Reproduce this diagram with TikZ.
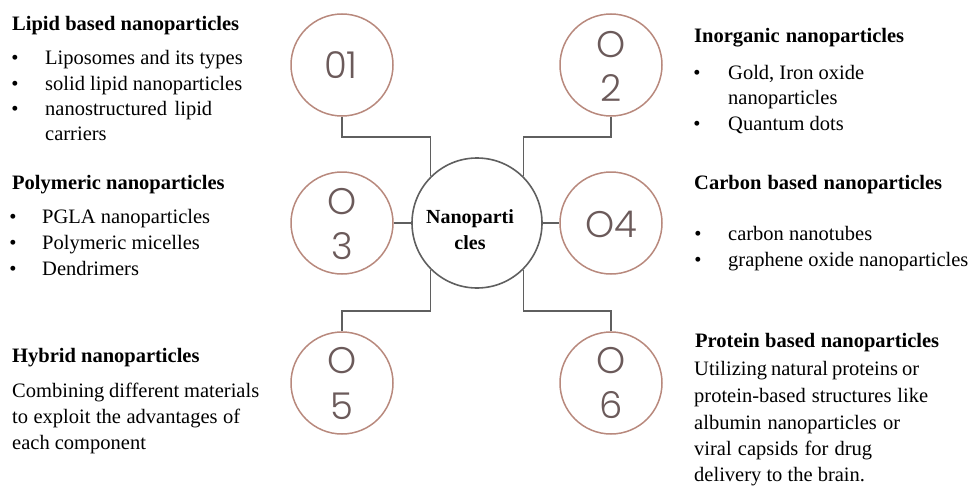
\documentclass[tikz,border=0pt]{standalone}
\usepackage{fontspec}
\setmainfont{Liberation Serif}
\newfontfamily\numfont{Poppins}[UprightFont={* Light}]
\definecolor{rose}{HTML}{B8897D}
\definecolor{digit}{HTML}{6B5A5A}
\definecolor{link}{HTML}{5F5F5F}
\begin{document}
\begin{tikzpicture}[x=1pt,y=-1pt,
  numcirc/.style={circle, draw=rose, line width=1.5pt, minimum size=102pt, inner sep=0pt},
  hub/.style={circle, draw=link, line width=1.6pt, minimum size=130pt, inner sep=0pt},
  wire/.style={draw=link, line width=1.8pt},
  digits/.style={font=\numfont\fontsize{37}{37}\selectfont, text=digit, inner sep=0pt, anchor=center},
  head/.style={font=\fontsize{20.5}{24}\selectfont\bfseries, anchor=base west, inner sep=0pt},
  hubtext/.style={font=\fontsize{20}{24}\selectfont\bfseries, anchor=base, inner sep=0pt},
  body/.style={font=\fontsize{20.5}{24}\selectfont, anchor=base west, inner sep=0pt},
  bul/.style={font=\fontsize{20.5}{24}\selectfont, anchor=base, inner sep=0pt},
]
\useasboundingbox (0,0) rectangle (969,487);

% circles
\node[hub] (n) at (477,223) {};
\node[numcirc] (c1) at (342,65) {};
\node[numcirc] (c2) at (611,65) {};
\node[numcirc] (c3) at (342,223) {};
\node[numcirc] (c4) at (611,223) {};
\node[numcirc] (c5) at (342,383) {};
\node[numcirc] (c6) at (611,383) {};

% hub text
\node[hubtext] (nt1) at (470,223) {Nanoparti};
\node[hubtext] (nt2) at (470,249) {cles};

% digits
\node[digits] (d1) at (341,65) {01};
\node[digits] (d2a) at (611,45) {O};
\node[digits] (d2b) at (611,88) {2};
\node[digits] (d3a) at (342,202) {O};
\node[digits] (d3b) at (342,246) {3};
\node[digits] (d4) at (611,224) {O4};
\node[digits] (d5a) at (342,361) {O};
\node[digits] (d5b) at (342,406) {5};
\node[digits] (d6a) at (611,361) {O};
\node[digits] (d6b) at (611,405) {6};

% connectors
\coordinate (k1) at (n.135 |- 0,137);
\coordinate (k2) at (n.45 |- 0,137);
\coordinate (k5) at (n.225 |- 0,311);
\coordinate (k6) at (n.315 |- 0,311);
\draw[wire] (c1.south) |- (k1) -- (n.135);
\draw[wire] (c2.south) |- (k2) -- (n.45);
\draw[wire] (c5.north) |- (k5) -- (n.225);
\draw[wire] (c6.north) |- (k6) -- (n.315);
\draw[wire] (c3.east) -- (n.west);
\draw[wire] (n.east) -- (c4.west);

% left top
\node[head] (h1) at (12,31) {\makebox[227pt][s]{Lipid based nanoparticles}};
\node[bul] (b11) at (15,64) {•};
\node[bul] (b12) at (15,90) {•};
\node[bul] (b13) at (15,115) {•};
\node[body] (t11) at (45,64) {Liposomes and its types};
\node[body] (t12) at (45,90) {solid lipid nanoparticles};
\node[body] (t13) at (45,115) {\makebox[167pt][s]{nanostructured lipid}};
\node[body] (t14) at (45,140) {carriers};

% left middle
\node[head] (h3) at (12,189) {Polymeric nanoparticles};
\node[bul] (b31) at (13,223) {•};
\node[bul] (b32) at (13,249) {•};
\node[bul] (b33) at (13,275) {•};
\node[body] (t31) at (42,223) {PGLA nanoparticles};
\node[body] (t32) at (42,249) {Polymeric micelles};
\node[body] (t33) at (42,275) {Dendrimers};

% left bottom
\node[head] (h5) at (12,362) {Hybrid nanoparticles};
\node[body] (t51) at (12,397) {\makebox[247pt][s]{Combining different materials}};
\node[body] (t52) at (12,423) {\makebox[228pt][s]{to exploit the advantages of}};
\node[body] (t53) at (12,449) {each component};

% right top
\node[head] (h2) at (694,43) {\makebox[210pt][s]{Inorganic nanoparticles}};
\node[bul] (b21) at (697,80) {•};
\node[bul] (b22) at (697,130) {•};
\node[body] (t21) at (728,80) {Gold, Iron oxide};
\node[body] (t22) at (728,104) {nanoparticles};
\node[body] (t23) at (728,130) {Quantum dots};

% right middle
\node[head] (h4) at (694,189) {\makebox[248pt][s]{Carbon based nanoparticles}};
\node[bul] (b41) at (698,240) {•};
\node[bul] (b42) at (698,266) {•};
\node[body] (t41) at (728,240) {carbon nanotubes};
\node[body] (t42) at (728,266) {graphene oxide nanoparticles};

% right bottom
\node[head] (h6) at (695,347) {\makebox[244pt][s]{Protein based nanoparticles}};
\node[body] (t61) at (694,375) {\makebox[225pt][s]{Utilizing natural proteins or}};
\node[body] (t62) at (694,402) {\makebox[234pt][s]{protein-based structures like}};
\node[body] (t63) at (694,429) {\makebox[206pt][s]{albumin nanoparticles or}};
\node[body] (t64) at (694,455) {\makebox[178pt][s]{viral capsids for drug}};
\node[body] (t65) at (694,481) {delivery to the brain.};
\end{tikzpicture}
\end{document}
